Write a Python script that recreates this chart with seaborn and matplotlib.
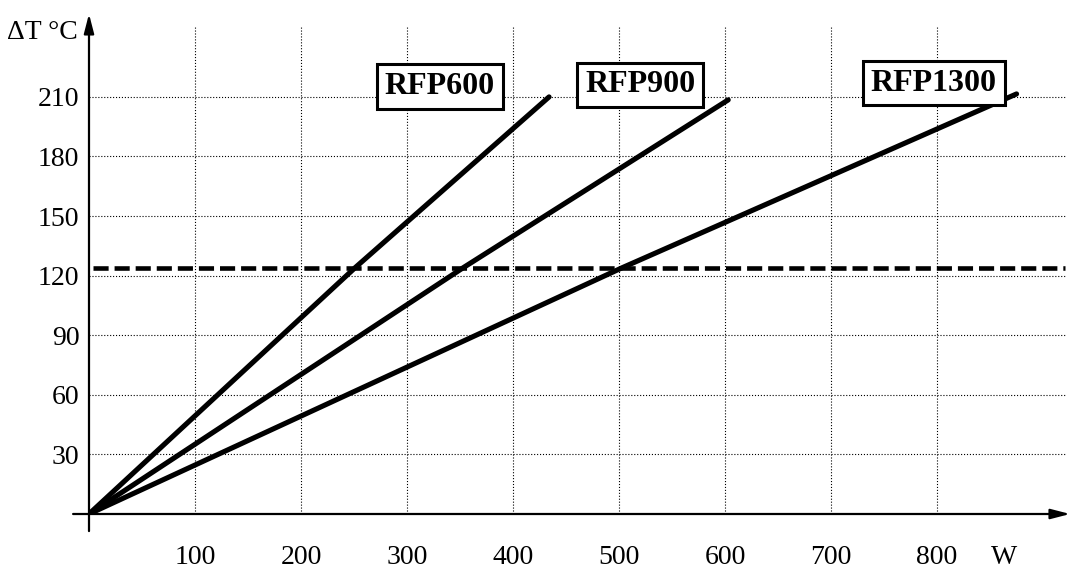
import matplotlib
matplotlib.use("Agg")
import matplotlib.pyplot as plt
import seaborn as sns
import pandas as pd

# values
watts_600 = [0, 251, 434]
temp_600 = [0, 124, 210]
watts_900 = [0, 353, 603]
temp_900 = [0, 124, 208.5]
watts_1300 = [0, 503, 875]
temp_1300 = [0, 124, 211.5]
limit_temp = 124
x_ticks = [100, 200, 300, 400, 500, 600, 700, 800]
y_ticks = [30, 60, 90, 120, 150, 180, 210]
series_names = ["RFP600", "RFP900", "RFP1300"]
label_pos = [(331, 215), (520, 216), (797, 217)]

sns.set_style("white")
plt.rcParams['font.family'] = ['Liberation Serif', 'DejaVu Serif']
plt.rcParams['text.color'] = 'black'
plt.rcParams['xtick.color'] = 'black'
plt.rcParams['ytick.color'] = 'black'

fig = plt.figure(figsize=(10.7, 5.71), dpi=100)
ax = fig.add_axes([89 / 1070, 57 / 571, 978 / 1070, 487 / 571])

series = [(watts_600, temp_600), (watts_900, temp_900), (watts_1300, temp_1300)]
for xs, ys in series:
    df = pd.DataFrame({"W": xs, "T": ys})
    sns.lineplot(data=df, x="W", y="T", sort=False, color="black",
                 linewidth=3.7, ax=ax, zorder=3)

ax.hlines(limit_temp, 4, 921, colors="black", linewidth=3.3,
          linestyles=(0, (3.3, 1.3)), zorder=3)

ax.set_xlim(0, 922.6)
ax.set_ylim(0, 245.2)
ax.set_xticks(x_ticks)
ax.set_yticks(y_ticks)
ax.set_xticklabels([str(v) for v in x_ticks], fontsize=20)
ax.set_yticklabels([str(v) for v in y_ticks], fontsize=20)
ax.tick_params(axis="x", length=6, width=0.6, color="0.4", pad=16.5, direction="out")
ax.tick_params(axis="y", length=0, pad=7)
ax.grid(True, linestyle=":", color="black", linewidth=0.8)
ax.set_xlabel("")
ax.set_ylabel("")
for s in ax.spines.values():
    s.set_visible(False)

# axes with arrows
arrow = dict(arrowstyle="-|>,head_length=0.58,head_width=0.15", lw=1.6,
             color="black", mutation_scale=20, shrinkA=0, shrinkB=0)
ax.annotate("", xy=(925.5, 0), xytext=(-15, 0), arrowprops=arrow,
            annotation_clip=False, zorder=4)
ax.annotate("", xy=(0, 251.8), xytext=(0, -8.6), arrowprops=arrow,
            annotation_clip=False, zorder=4)

ax.text(-10.4, 242.2, "ΔT °C", ha="right", va="center", fontsize=20,
        clip_on=False)
ax.text(863, -22, "W", ha="center", va="center", fontsize=20, clip_on=False)

for name, (lx, ly) in zip(series_names, label_pos):
    ax.text(lx, ly, name, ha="center", va="center", fontsize=23,
            fontweight="bold", zorder=5, clip_on=False,
            bbox=dict(boxstyle="square,pad=0.25", facecolor="white",
                      edgecolor="black", linewidth=2.2))

fig.savefig("out.png", dpi=100)
